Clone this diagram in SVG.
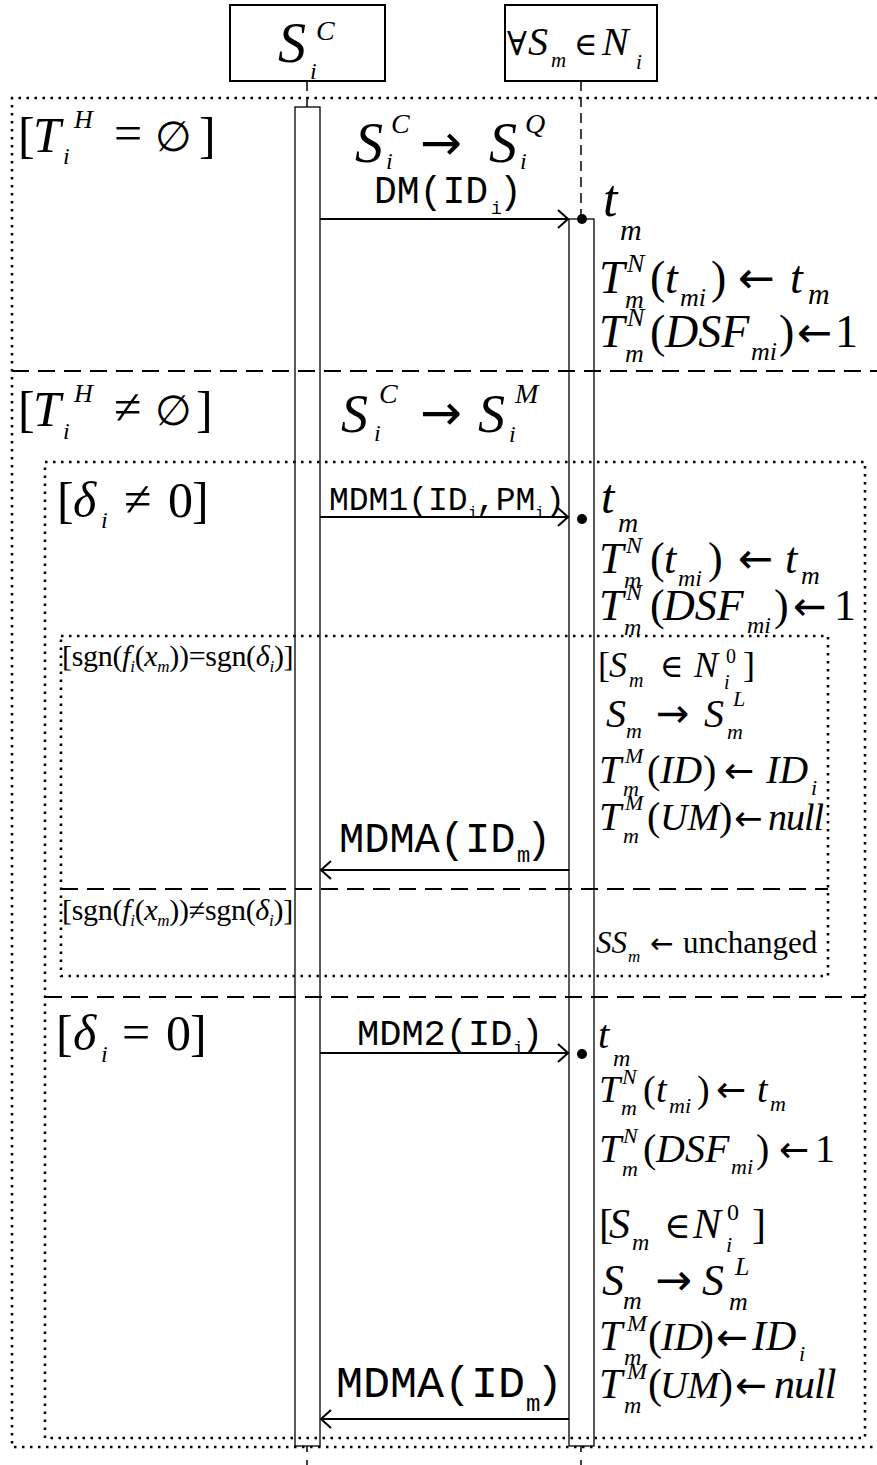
<svg xmlns="http://www.w3.org/2000/svg" width="877" height="1465" viewBox="0 0 877 1465">
<style>
.t{font-family:"Liberation Serif","DejaVu Serif",serif;fill:#000}
.i{font-style:italic}
.a{font-family:"DejaVu Sans",sans-serif;fill:#000}
.c{font-family:"Liberation Mono","DejaVu Sans Mono",monospace;fill:#000}
.frame{fill:none;stroke:#000;stroke-width:2.5;stroke-dasharray:2.5 5.5}
.sep{fill:none;stroke:#000;stroke-width:2;stroke-dasharray:17 9}
.box{fill:#fff;stroke:#000;stroke-width:2}
.act{fill:none;stroke:#000;stroke-width:1.3}
.life{stroke:#000;stroke-width:1.5;stroke-dasharray:10 6}
.msg{stroke:#000;stroke-width:2;fill:none}
</style>
<defs>
<marker id="ah" viewBox="0 0 12 20" refX="11" refY="10" markerWidth="12" markerHeight="20" markerUnits="userSpaceOnUse" orient="auto"><path d="M1,1 L11,10 L1,19" fill="none" stroke="#000" stroke-width="2"/></marker>
</defs>

<g id="frames">
<path class="frame" d="M877,98 H12 V1447 H877"/>
<line class="sep" x1="12" y1="371" x2="877" y2="371"/>
<rect class="frame" x="45" y="462" width="820" height="976"/>
<line class="sep" x1="45" y1="997" x2="865" y2="997"/>
<rect class="frame" x="61" y="636" width="767" height="340"/>
<line class="sep" x1="61" y1="889" x2="828" y2="889"/>
</g>

<g id="node-sic">
<rect class="box" x="230" y="5" width="155" height="76"/>
<text class="t i" x="278" y="62" font-size="56">S</text>
<text class="t i" x="316" y="40" font-size="28">C</text>
<text class="t i" x="310" y="79" font-size="24">i</text>
<line class="life" x1="307" y1="81" x2="307" y2="107"/>
<rect class="act" x="295" y="107" width="25" height="1339"/>
<line class="life" x1="307" y1="1446" x2="307" y2="1465" style="stroke-dasharray:6 8"/>
</g>

<g id="node-sm">
<rect class="box" x="505" y="5" width="152" height="76"/>
<text class="t" x="507" y="55" font-size="33">∀</text>
<text class="t i" x="528" y="55" font-size="40">S</text>
<text class="t i" x="551" y="67" font-size="21">m</text>
<text class="t" x="574" y="55" font-size="32">∈</text>
<text class="t i" x="602" y="55" font-size="40">N</text>
<text class="t i" x="636" y="69" font-size="21">i</text>
<line class="life" x1="581" y1="81" x2="581" y2="219"/>
<rect class="act" x="569" y="219" width="25" height="1227"/>
<line class="life" x1="581" y1="1446" x2="581" y2="1465" style="stroke-dasharray:6 8"/>
</g>

<g id="connectors">
<line class="msg" x1="320" y1="219" x2="568" y2="219" marker-end="url(#ah)"/>
<circle cx="582" cy="219" r="5"/>
<line class="msg" x1="320" y1="517" x2="568" y2="517" marker-end="url(#ah)"/>
<circle cx="582" cy="519" r="5"/>
<line class="msg" x1="569" y1="870" x2="321" y2="870" marker-end="url(#ah)"/>
<line class="msg" x1="320" y1="1053" x2="568" y2="1053" marker-end="url(#ah)"/>
<circle cx="582" cy="1054" r="5"/>
<line class="msg" x1="569" y1="1419" x2="321" y2="1419" marker-end="url(#ah)"/>
</g>

<g id="labels-top">
<text class="t" x="18" y="152" font-size="50">[</text>
<text class="t i" x="33" y="152" font-size="50">T</text>
<text class="t i" x="74" y="128" font-size="26">H</text>
<text class="t i" x="63" y="164" font-size="24">i</text>
<text class="t" x="114" y="150" font-size="50">=</text>
<text class="t" x="155" y="151" font-size="42">∅</text>
<text class="t" x="199" y="152" font-size="50">]</text>

<text class="t i" x="355" y="162" font-size="56">S</text>
<text class="t i" x="391" y="133" font-size="28">C</text>
<text class="t i" x="386" y="169" font-size="24">i</text>
<text class="a" x="420" y="160" font-size="50">→</text>
<text class="t i" x="489" y="162" font-size="56">S</text>
<text class="t i" x="525" y="133" font-size="28">Q</text>
<text class="t i" x="520" y="169" font-size="24">i</text>

<text class="c" x="374" y="203" font-size="38">DM(ID</text>
<text class="c" x="491" y="214" font-size="18">i</text>
<text class="c" x="499" y="203" font-size="38">)</text>

<text class="t i" x="603" y="216" font-size="52">t</text>
<text class="t i" x="620" y="240" font-size="30">m</text>

<text class="t i" x="599" y="293" font-size="46">T</text>
<text class="t i" x="627" y="272" font-size="26">N</text>
<text class="t i" x="625" y="308" font-size="26">m</text>
<text class="t" x="650" y="293" font-size="46">(</text>
<text class="t i" x="665" y="293" font-size="46">t</text>
<text class="t i" x="680" y="306" font-size="26">mi</text>
<text class="t" x="711" y="293" font-size="46">)</text>
<text class="a" x="738" y="293" font-size="44">←</text>
<text class="t i" x="790" y="293" font-size="46">t</text>
<text class="t i" x="808" y="304" font-size="30">m</text>

<text class="t i" x="599" y="347" font-size="46">T</text>
<text class="t i" x="627" y="326" font-size="26">N</text>
<text class="t i" x="625" y="362" font-size="26">m</text>
<text class="t" x="650" y="347" font-size="46">(</text>
<text class="t i" x="665" y="347" font-size="46">DSF</text>
<text class="t i" x="751" y="360" font-size="26">mi</text>
<text class="t" x="779" y="347" font-size="46">)</text>
<text class="a" x="797" y="347" font-size="42">←</text>
<text class="t" x="835" y="347" font-size="46">1</text>
</g>

<g id="labels-mid">
<text class="t" x="18" y="426" font-size="50">[</text>
<text class="t i" x="33" y="426" font-size="50">T</text>
<text class="t i" x="74" y="402" font-size="26">H</text>
<text class="t i" x="63" y="439" font-size="24">i</text>
<text class="t" x="114" y="424" font-size="50">≠</text>
<text class="t" x="155" y="425" font-size="42">∅</text>
<text class="t" x="196" y="426" font-size="50">]</text>

<text class="t i" x="341" y="432" font-size="54">S</text>
<text class="t i" x="379" y="403" font-size="28">C</text>
<text class="t i" x="374" y="441" font-size="24">i</text>
<text class="a" x="420" y="430" font-size="50">→</text>
<text class="t i" x="478" y="432" font-size="54">S</text>
<text class="t i" x="515" y="403" font-size="28">M</text>
<text class="t i" x="509" y="442" font-size="24">i</text>

<text class="t" x="57" y="517" font-size="50">[</text>
<text class="t i" x="73" y="517" font-size="50">δ</text>
<text class="t i" x="101" y="528" font-size="24">i</text>
<text class="t" x="124" y="516" font-size="50">≠</text>
<text class="t" x="168" y="517" font-size="50">0</text>
<text class="t" x="192" y="517" font-size="50">]</text>

<text class="c" x="329" y="510" font-size="33">MDM1(ID</text>
<text class="c" x="468" y="518" font-size="16">i</text>
<text class="c" x="476" y="510" font-size="33">,PM</text>
<text class="c" x="535" y="518" font-size="16">i</text>
<text class="c" x="545" y="510" font-size="33">)</text>

<text class="t i" x="601" y="513" font-size="48">t</text>
<text class="t i" x="618" y="532" font-size="28">m</text>

<text class="t i" x="599" y="573" font-size="44">T</text>
<text class="t i" x="626" y="553" font-size="24">N</text>
<text class="t i" x="624" y="588" font-size="24">m</text>
<text class="t" x="650" y="573" font-size="44">(</text>
<text class="t i" x="664" y="573" font-size="44">t</text>
<text class="t i" x="678" y="586" font-size="24">mi</text>
<text class="t" x="708" y="573" font-size="44">)</text>
<text class="a" x="738" y="573" font-size="42">←</text>
<text class="t i" x="785" y="573" font-size="44">t</text>
<text class="t i" x="801" y="584" font-size="26">m</text>

<text class="t i" x="599" y="620" font-size="44">T</text>
<text class="t i" x="626" y="600" font-size="24">N</text>
<text class="t i" x="624" y="635" font-size="24">m</text>
<text class="t" x="650" y="620" font-size="44">(</text>
<text class="t i" x="663" y="620" font-size="44">DSF</text>
<text class="t i" x="747" y="633" font-size="24">mi</text>
<text class="t" x="774" y="620" font-size="44">)</text>
<text class="a" x="793" y="620" font-size="40">←</text>
<text class="t" x="834" y="620" font-size="44">1</text>

<text class="t" x="62" y="666" font-size="30" letter-spacing="-0.3">[sgn(<tspan font-style="italic">f</tspan><tspan font-style="italic" font-size="17" dy="6">i</tspan><tspan dy="-6">(</tspan><tspan font-style="italic">x</tspan><tspan font-style="italic" font-size="17" dy="6">m</tspan><tspan dy="-6">))=sgn(</tspan><tspan font-style="italic">δ</tspan><tspan font-style="italic" font-size="17" dy="6">i</tspan><tspan dy="-6">)]</tspan></text>

<text class="t" x="598" y="677" font-size="36">[</text>
<text class="t i" x="609" y="677" font-size="36">S</text>
<text class="t i" x="629" y="687" font-size="20">m</text>
<text class="t" x="660" y="677" font-size="32">∈</text>
<text class="t i" x="694" y="677" font-size="36">N</text>
<text class="t" x="726" y="663" font-size="20">0</text>
<text class="t i" x="724" y="689" font-size="20">i</text>
<text class="t" x="743" y="677" font-size="36">]</text>

<text class="t i" x="606" y="727" font-size="40">S</text>
<text class="t i" x="626" y="738" font-size="22">m</text>
<text class="a" x="656" y="727" font-size="40">→</text>
<text class="t i" x="704" y="727" font-size="40">S</text>
<text class="t i" x="733" y="706" font-size="22">L</text>
<text class="t i" x="727" y="739" font-size="22">m</text>

<text class="t i" x="599" y="783" font-size="40">T</text>
<text class="t i" x="625" y="763" font-size="22">M</text>
<text class="t i" x="623" y="796" font-size="22">m</text>
<text class="t" x="647" y="783" font-size="40">(</text>
<text class="t i" x="660" y="783" font-size="40">ID</text>
<text class="t" x="703" y="783" font-size="40">)</text>
<text class="a" x="724" y="783" font-size="36">←</text>
<text class="t i" x="766" y="783" font-size="40">ID</text>
<text class="t i" x="811" y="795" font-size="22">i</text>

<text class="t i" x="599" y="830" font-size="40">T</text>
<text class="t i" x="625" y="810" font-size="22">M</text>
<text class="t i" x="623" y="843" font-size="22">m</text>
<text class="t" x="647" y="830" font-size="40">(</text>
<text class="t i" x="660" y="830" font-size="38">UM</text>
<text class="t" x="719" y="830" font-size="40">)</text>
<text class="a" x="734" y="830" font-size="34">←</text>
<text class="t i" x="768" y="830" font-size="38" letter-spacing="-1">null</text>

<text class="c" x="339" y="852" font-size="42">MDMA(ID</text>
<text class="c" x="517" y="862" font-size="22">m</text>
<text class="c" x="526" y="852" font-size="42">)</text>

<text class="t" x="62" y="920" font-size="30" letter-spacing="-0.3">[sgn(<tspan font-style="italic">f</tspan><tspan font-style="italic" font-size="17" dy="6">i</tspan><tspan dy="-6">(</tspan><tspan font-style="italic">x</tspan><tspan font-style="italic" font-size="17" dy="6">m</tspan><tspan dy="-6">))≠sgn(</tspan><tspan font-style="italic">δ</tspan><tspan font-style="italic" font-size="17" dy="6">i</tspan><tspan dy="-6">)]</tspan></text>

<text class="t i" x="596" y="953" font-size="31">SS</text>
<text class="t i" x="628" y="962" font-size="17">m</text>
<text class="a" x="650" y="953" font-size="28">←</text>
<text class="t" x="683" y="953" font-size="31">unchanged</text>
</g>

<g id="labels-bottom">
<text class="t" x="56" y="1050" font-size="50">[</text>
<text class="t i" x="73" y="1050" font-size="50">δ</text>
<text class="t i" x="101" y="1062" font-size="24">i</text>
<text class="t" x="122" y="1049" font-size="50">=</text>
<text class="t" x="166" y="1050" font-size="50">0</text>
<text class="t" x="190" y="1050" font-size="50">]</text>

<text class="c" x="357" y="1045" font-size="37">MDM2(ID</text>
<text class="c" x="513" y="1054" font-size="18">i</text>
<text class="c" x="521" y="1045" font-size="37">)</text>

<text class="t i" x="598" y="1048" font-size="40">t</text>
<text class="t i" x="613" y="1066" font-size="24">m</text>

<text class="t i" x="599" y="1102" font-size="38">T</text>
<text class="t i" x="622" y="1084" font-size="22">N</text>
<text class="t i" x="621" y="1115" font-size="22">m</text>
<text class="t" x="643" y="1102" font-size="38">(</text>
<text class="t i" x="656" y="1102" font-size="38">t</text>
<text class="t i" x="669" y="1113" font-size="22">mi</text>
<text class="t" x="697" y="1102" font-size="38">)</text>
<text class="a" x="716" y="1102" font-size="36">←</text>
<text class="t i" x="757" y="1102" font-size="38">t</text>
<text class="t i" x="770" y="1111" font-size="22">m</text>

<text class="t i" x="599" y="1162" font-size="40">T</text>
<text class="t i" x="623" y="1143" font-size="22">N</text>
<text class="t i" x="622" y="1176" font-size="22">m</text>
<text class="t" x="643" y="1162" font-size="40">(</text>
<text class="t i" x="656" y="1162" font-size="40">DSF</text>
<text class="t i" x="731" y="1174" font-size="22">mi</text>
<text class="t" x="756" y="1162" font-size="40">)</text>
<text class="a" x="779" y="1162" font-size="36">←</text>
<text class="t" x="815" y="1162" font-size="40">1</text>

<text class="t" x="599" y="1238" font-size="42">[</text>
<text class="t i" x="609" y="1238" font-size="42">S</text>
<text class="t i" x="632" y="1250" font-size="24">m</text>
<text class="t" x="664" y="1238" font-size="36">∈</text>
<text class="t i" x="693" y="1238" font-size="42">N</text>
<text class="t" x="727" y="1220" font-size="24">0</text>
<text class="t i" x="726" y="1252" font-size="22">i</text>
<text class="t" x="752" y="1238" font-size="42">]</text>

<text class="t i" x="602" y="1295" font-size="44">S</text>
<text class="t i" x="623" y="1309" font-size="26">m</text>
<text class="a" x="655" y="1295" font-size="44">→</text>
<text class="t i" x="702" y="1295" font-size="44">S</text>
<text class="t i" x="735" y="1275" font-size="26">L</text>
<text class="t i" x="729" y="1310" font-size="26">m</text>

<text class="t i" x="599" y="1350" font-size="42">T</text>
<text class="t i" x="627" y="1331" font-size="24">M</text>
<text class="t i" x="624" y="1365" font-size="24">m</text>
<text class="t" x="648" y="1350" font-size="42">(</text>
<text class="t i" x="661" y="1350" font-size="40">ID</text>
<text class="t" x="700" y="1350" font-size="42">)</text>
<text class="a" x="716" y="1350" font-size="38">←</text>
<text class="t i" x="752" y="1350" font-size="42">ID</text>
<text class="t i" x="799" y="1361" font-size="22">i</text>

<text class="t i" x="599" y="1398" font-size="42">T</text>
<text class="t i" x="627" y="1379" font-size="24">M</text>
<text class="t i" x="624" y="1413" font-size="24">m</text>
<text class="t" x="648" y="1398" font-size="42">(</text>
<text class="t i" x="660" y="1398" font-size="38">UM</text>
<text class="t" x="719" y="1398" font-size="42">)</text>
<text class="a" x="735" y="1398" font-size="38">←</text>
<text class="t i" x="774" y="1398" font-size="42" letter-spacing="-1">null</text>

<text class="c" x="336" y="1397" font-size="45">MDMA(ID</text>
<text class="c" x="526" y="1411" font-size="24">m</text>
<text class="c" x="536" y="1397" font-size="45">)</text>
</g>
</svg>
